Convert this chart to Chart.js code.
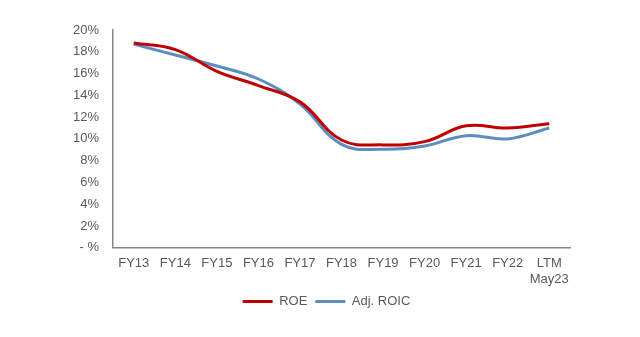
<!DOCTYPE html>
<html>
<head>
<meta charset="utf-8">
<script src="https://cdn.jsdelivr.net/npm/chart.js@4"></script>
<style>
    html, body { margin: 0; padding: 0; background: #ffffff; }
    #wrap { width: 640px; height: 337px; }
</style>
</head>
<body>
<div id="wrap"><canvas id="returns-chart" width="640" height="337"></canvas></div>
<script>
// 年度标签
const periods = ['FY13', 'FY14', 'FY15', 'FY16', 'FY17', 'FY18', 'FY19', 'FY20', 'FY21', 'FY22', ['LTM', 'May23']];

// 回报率 (%)
const roeValues = [18.8, 18.2, 16.2, 14.9, 13.4, 9.9, 9.45, 9.75, 11.2, 11.0, 11.4];
const adjRoicValues = [18.7, 17.7, 16.7, 15.5, 13.2, 9.5, 9.05, 9.35, 10.3, 10.0, 11.0];

const yTicks = [0, 2, 4, 6, 8, 10, 12, 14, 16, 18, 20];

const textColor = '#595959';
const axisColor = '#868686';
const labelFont = { family: 'Liberation Sans, Arial', size: 13 };

// 图例整体右移一点
const legendShift = {
    id: 'legendShift',
    afterLayout(chart) {
        chart.legend.left += 12;
        chart.legend.right += 12;
    }
};

new Chart(document.getElementById('returns-chart'), {
    type: 'line',
    data: {
        labels: periods,
        datasets: [
            {
                label: 'ROE',
                data: roeValues,
                borderColor: '#c00000',
                backgroundColor: '#c00000',
                borderWidth: 3,
                pointRadius: 0,
                tension: 0.4
            },
            {
                label: 'Adj. ROIC',
                data: adjRoicValues,
                borderColor: '#5b8dbf',
                backgroundColor: '#5b8dbf',
                borderWidth: 3,
                pointRadius: 0,
                tension: 0.4
            }
        ]
    },
    options: {
        responsive: false,
        animation: false,
        layout: {
            padding: { left: 59, right: 70, top: 30, bottom: 19 }
        },
        plugins: {
            legend: {
                position: 'bottom',
                labels: {
                    color: textColor,
                    font: labelFont,
                    usePointStyle: true,
                    pointStyle: 'line',
                    pointStyleWidth: 30,
                    padding: 8
                }
            },
            tooltip: { enabled: false }
        },
        scales: {
            x: {
                offset: true,
                grid: { display: false, drawTicks: false },
                border: { color: axisColor, width: 1.5 },
                ticks: {
                    color: textColor,
                    font: labelFont,
                    padding: 8,
                    maxRotation: 0,
                    autoSkip: false
                },
                afterFit: scale => {
                    scale.height -= 8;
                }
            },
            y: {
                min: 0,
                max: 20,
                afterBuildTicks: axis => {
                    axis.ticks = yTicks.map(v => ({ value: v }));
                },
                grid: { display: false, drawTicks: false },
                border: { color: axisColor, width: 1.5 },
                ticks: {
                    color: textColor,
                    font: labelFont,
                    padding: 14,
                    callback: v => v === 0 ? '- %' : v + '%'
                }
            }
        }
    },
    plugins: [legendShift]
});
</script>
</body>
</html>
